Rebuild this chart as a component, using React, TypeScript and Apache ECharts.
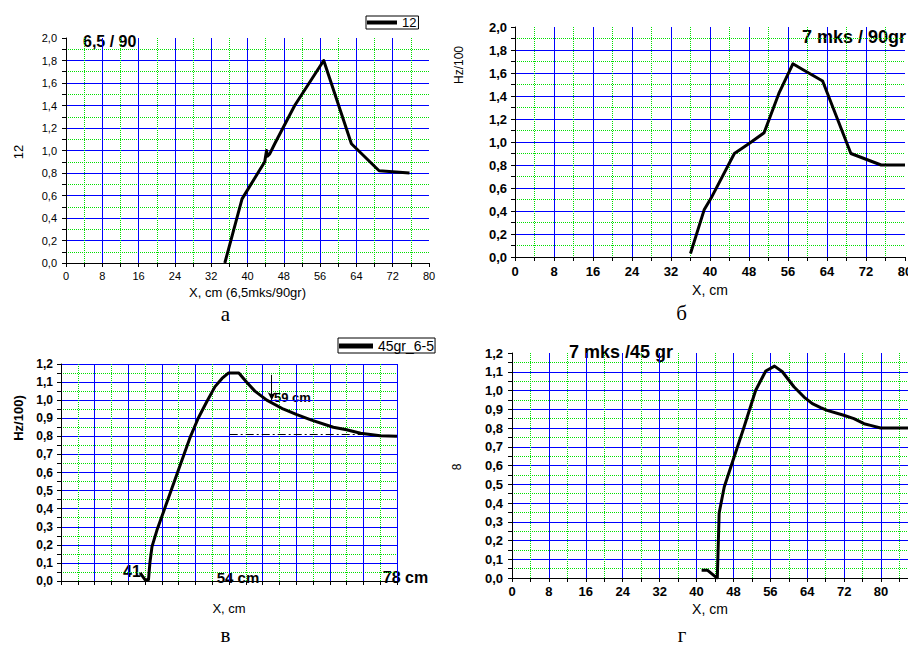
import React, { useEffect, useRef } from "react";
import * as echarts from "echarts";

// Panel а
const aX = [35.0, 38.8, 43.8, 44.2, 44.4, 44.9, 46.0, 50.4, 56.8, 62.9, 69.0, 75.7];
const aY = [0.0, 0.57, 0.9, 1.0, 0.95, 0.97, 1.06, 1.4, 1.8, 1.06, 0.82, 0.8];
// Panel б
const bX = [36.0, 38.8, 40.2, 45.0, 48.1, 51.1, 54.2, 57.0, 59.0, 63.1, 68.9, 75.1, 80.0];
const bY = [0.03, 0.41, 0.51, 0.9, 0.99, 1.08, 1.43, 1.68, 1.63, 1.53, 0.9, 0.8, 0.8];
// Panel в
const vX = [41.3, 42.0, 42.5, 42.7, 43.0, 43.7, 44.9, 46.1, 47.3, 48.4, 49.6, 50.8, 52.0, 53.0, 53.9, 55.4, 56.5, 57.7, 59.4, 61.8, 63.7, 65.8, 68.9, 70.8, 72.8, 75.6, 78.0];
const vY = [0.045, 0.007, 0.007, 0.1, 0.19, 0.28, 0.41, 0.54, 0.67, 0.79, 0.9, 0.99, 1.075, 1.12, 1.15, 1.15, 1.1, 1.05, 1.0, 0.95, 0.92, 0.89, 0.85, 0.836, 0.817, 0.803, 0.8];
// Panel г
const gX = [41.1, 42.4, 44.2, 44.5, 44.9, 46.0, 47.8, 50.3, 52.8, 55.0, 56.9, 58.6, 61.1, 63.3, 65.1, 66.9, 68.3, 71.9, 74.1, 76.3, 77.7, 79.9, 86.0];
const gY = [0.041, 0.041, 0.005, 0.0, 0.347, 0.485, 0.62, 0.805, 1.0, 1.104, 1.13, 1.1, 1.02, 0.965, 0.93, 0.909, 0.894, 0.868, 0.85, 0.823, 0.814, 0.8, 0.8];

// Annotations of panel в (data units)
const vArrowX = 60.1;
const vArrowY = [1.14, 1.0];
const vDashX = [54.1, 73.2];
const vDashY = 0.813;

const FONT = '"Liberation Sans", Arial, sans-serif';
const SERIF = '"Liberation Serif", "Times New Roman", serif';
const BLUE = "#0000ff";
const GREEN = "#00e000";

const fmt1 = (v: number) => v.toFixed(1).replace(".", ",");
const pairs = (xs: number[], ys: number[]) => xs.map((x, i) => [x, ys[i]]);

function axisBase(fontSize: number, bold: boolean, margin: number, showMax: boolean, formatter?: (v: number) => string) {
  return {
    type: "value" as const,
    axisLine: { show: true, onZero: false, lineStyle: { color: "#000", width: 1 } },
    axisTick: { show: true, inside: false, length: 4, lineStyle: { color: "#000" } },
    minorTick: { show: true, splitNumber: 2, length: 4, lineStyle: { color: "#000" } },
    axisLabel: {
      fontSize,
      fontWeight: bold ? "bold" : "normal",
      color: "#000",
      fontFamily: FONT,
      margin,
      ...(formatter ? { formatter } : {}),
    },
    splitLine: {
      show: true,
      showMinLine: false,
      showMaxLine: showMax,
      lineStyle: { color: BLUE, width: 1 },
    },
    minorSplitLine: { show: true, lineStyle: { color: GREEN, width: 1, type: "dotted" } },
  };
}

function txt(
  text: string,
  x: number,
  y: number,
  fontSize: number,
  opts: { bold?: boolean; align?: string; rotate?: boolean; serif?: boolean } = {}
) {
  return {
    type: "text",
    x,
    y,
    rotation: opts.rotate ? Math.PI / 2 : 0,
    silent: true,
    style: {
      text,
      fill: "#000",
      fontSize,
      fontWeight: opts.bold ? "bold" : "normal",
      fontFamily: opts.serif ? SERIF : FONT,
      textAlign: opts.align || "center",
      textVerticalAlign: "middle",
    },
  };
}

export default function App() {
  const ref = useRef<HTMLDivElement>(null);
  useEffect(() => {
    if (!ref.current) return;
    const chart = echarts.init(ref.current, undefined, { renderer: "svg" });
    const lineStyle = { color: "#000", width: 3, join: "round" as const };
    const gAxis = axisBase(13, true, 7, true);
    const option: any = {
      animation: false,
      backgroundColor: "#fff",
      grid: [
        { left: 66, top: 38, width: 363, height: 225, outerBoundsMode: "none" },
        { left: 515, top: 27, width: 390, height: 230, outerBoundsMode: "none" },
        { left: 61, top: 364, width: 336, height: 217, outerBoundsMode: "none" },
        { left: 512, top: 353, width: 406, height: 225, outerBoundsMode: "none" },
      ],
      xAxis: [
        { ...axisBase(11, false, 7, false), gridIndex: 0, position: "bottom", min: 0, max: 80, interval: 8 },
        { ...axisBase(13, true, 8, false), gridIndex: 1, position: "bottom", min: 0, max: 80, interval: 8 },
        { type: "value", gridIndex: 2, min: 30, max: 78, show: false, position: "bottom" },
        {
          ...axisBase(12, true, 8, true),
          gridIndex: 2,
          position: "bottom",
          min: 0,
          max: 10,
          interval: 1,
          axisLabel: { show: false },
        },
        {
          ...gAxis,
          axisLabel: { ...gAxis.axisLabel, showMaxLabel: false },
          gridIndex: 3,
          position: "bottom",
          min: 0,
          max: 88,
          interval: 8,
        },
      ],
      yAxis: [
        { ...axisBase(11, false, 9, false, fmt1), gridIndex: 0, min: 0, max: 2, interval: 0.2 },
        { ...axisBase(13, true, 8, false, fmt1), gridIndex: 1, min: 0, max: 2, interval: 0.2 },
        { ...axisBase(12, true, 8, true, fmt1), gridIndex: 2, min: 0, max: 1.2, interval: 0.1 },
        { ...axisBase(13, true, 9, false, fmt1), gridIndex: 3, min: 0, max: 1.2, interval: 0.1 },
      ],
      legend: [
        {
          left: 366,
          top: 16,
          data: ["12"],
          icon: "rect",
          itemWidth: 30,
          itemHeight: 4,
          borderColor: "#000",
          borderWidth: 1,
          padding: [0, 2, 0, 1],
          textStyle: { fontSize: 13, color: "#000", fontFamily: FONT },
        },
        {
          left: 338,
          top: 338,
          data: ["45gr_6-5"],
          icon: "rect",
          itemWidth: 34,
          itemHeight: 5,
          borderColor: "#000",
          borderWidth: 1,
          padding: [1, 1, 0, 1],
          textStyle: { fontSize: 14, color: "#000", fontFamily: FONT },
        },
      ],
      series: [
        {
          type: "line",
          name: "12",
          xAxisIndex: 0,
          yAxisIndex: 0,
          data: pairs(aX, aY),
          symbol: "none",
          lineStyle,
          itemStyle: { color: "#000" },
        },
        {
          type: "line",
          name: "7 mks / 90gr",
          xAxisIndex: 1,
          yAxisIndex: 1,
          data: pairs(bX, bY),
          symbol: "none",
          lineStyle,
          itemStyle: { color: "#000" },
        },
        {
          type: "line",
          name: "45gr_6-5",
          xAxisIndex: 2,
          yAxisIndex: 2,
          data: pairs(vX, vY),
          symbol: "none",
          lineStyle,
          itemStyle: { color: "#000" },
          markLine: {
            silent: true,
            animation: false,
            label: { show: false },
            symbol: ["none", "none"],
            lineStyle: { color: "#000", width: 1, type: "solid" },
            data: [
              [
                { coord: [vArrowX, vArrowY[0]], symbol: "none" },
                { coord: [vArrowX, vArrowY[1]], symbol: "arrow", symbolSize: [6, 8] },
              ],
              [
                { coord: [vDashX[0], vDashY], symbol: "none", lineStyle: { type: [8, 3, 2, 3], color: "#000", width: 1 } },
                { coord: [vDashX[1], vDashY], symbol: "none" },
              ],
            ],
          },
        },
        {
          type: "line",
          name: "7 mks /45 gr",
          xAxisIndex: 4,
          yAxisIndex: 3,
          data: pairs(gX, gY),
          symbol: "none",
          lineStyle,
          itemStyle: { color: "#000" },
        },
      ],
      graphic: {
        elements: [
          // titles
          txt("6,5 / 90", 83, 41, 16, { bold: true, align: "left" }),
          txt("7 mks / 90gr", 802, 37, 18, { bold: true, align: "left" }),
          txt("7 mks /45 gr", 569, 352, 18, { bold: true, align: "left" }),
          // axis names
          txt("12", 18, 152, 13, { rotate: true }),
          txt("X, cm (6,5mks/90gr)", 247.5, 292.5, 13),
          txt("Hz/100", 459, 65, 12, { rotate: true }),
          txt("X, cm", 710, 289.5, 14),
          txt("Hz/100)", 18, 418, 13, { rotate: true, bold: true }),
          txt("X, cm", 229, 608.5, 13),
          txt("8", 456.5, 467, 12, { rotate: true }),
          txt("X, cm", 710, 608.5, 14),
          // annotations in в
          txt("41", 132, 571, 16, { bold: true }),
          txt("54 cm", 238, 577, 15, { bold: true }),
          txt("78 cm", 405.5, 577, 16, { bold: true }),
          txt("59 cm", 274, 397.5, 13, { bold: true, align: "left" }),
          // captions
          txt("а", 225.5, 314, 21, { serif: true }),
          txt("б", 681.5, 313, 21, { serif: true }),
          txt("в", 225.5, 635, 21, { serif: true }),
          txt("г", 682, 635, 21, { serif: true }),
        ],
      },
    };
    chart.setOption(option);
    return () => chart.dispose();
  }, []);
  return (
    <div
      ref={ref}
      style={{ position: "absolute", left: 0, top: 0, width: 908, height: 647, background: "#fff" }}
    />
  );
}
